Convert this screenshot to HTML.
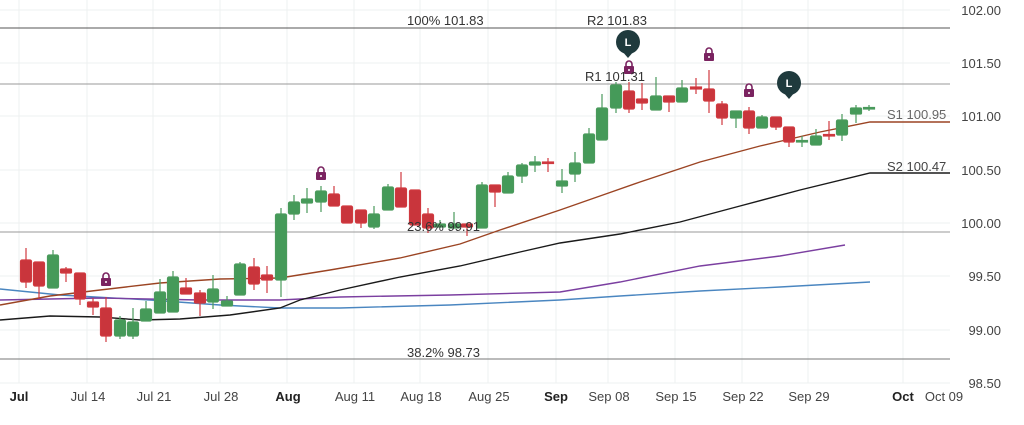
<!DOCTYPE html>
<html><head><meta charset="utf-8"><style>
html,body{margin:0;padding:0;background:#fff;}
svg{display:block;font-family:"Liberation Sans",sans-serif;}
</style></head><body>
<svg width="1024" height="425" viewBox="0 0 1024 425">
<!-- grid -->
<g stroke="#eef1f1" stroke-width="1">
<line x1="0" y1="10" x2="950" y2="10"/><line x1="0" y1="63" x2="950" y2="63"/><line x1="0" y1="116" x2="950" y2="116"/><line x1="0" y1="170" x2="950" y2="170"/><line x1="0" y1="223" x2="950" y2="223"/><line x1="0" y1="276" x2="950" y2="276"/><line x1="0" y1="330" x2="950" y2="330"/><line x1="0" y1="383" x2="950" y2="383"/>
<line x1="19" y1="0" x2="19" y2="383"/><line x1="87" y1="0" x2="87" y2="383"/><line x1="153" y1="0" x2="153" y2="383"/><line x1="220" y1="0" x2="220" y2="383"/><line x1="287" y1="0" x2="287" y2="383"/><line x1="354" y1="0" x2="354" y2="383"/><line x1="420" y1="0" x2="420" y2="383"/><line x1="488" y1="0" x2="488" y2="383"/><line x1="556" y1="0" x2="556" y2="383"/><line x1="608" y1="0" x2="608" y2="383"/><line x1="675" y1="0" x2="675" y2="383"/><line x1="742" y1="0" x2="742" y2="383"/><line x1="808" y1="0" x2="808" y2="383"/><line x1="903" y1="0" x2="903" y2="383"/>
</g>
<!-- horizontal levels -->
<line x1="0" y1="28" x2="950" y2="28" stroke="#555" stroke-width="1"/>
<line x1="0" y1="84" x2="950" y2="84" stroke="#999" stroke-width="1"/>
<line x1="0" y1="232" x2="950" y2="232" stroke="#999" stroke-width="1"/>
<line x1="0" y1="359" x2="950" y2="359" stroke="#777" stroke-width="1"/>
<!-- MAs -->
<polyline fill="none" stroke="#4a86c0" stroke-width="1.4" points="0,289 60,295 150,300 220,305 280,308 340,308 450,305 560,300 620,296 700,291 780,287 870,282"/>
<polyline fill="none" stroke="#7b3fa0" stroke-width="1.4" points="0,300 100,298 200,300 280,300 340,297 450,295 560,292 620,282 700,266 780,256 845,245"/>
<polyline fill="none" stroke="#1a1a1a" stroke-width="1.4" points="0,320 50,316 100,317 140,320 180,319 230,315 280,308 300,300 340,290 400,277 460,266 520,252 560,243 620,234 680,222 740,206 800,190 870,173 950,173"/>
<polyline fill="none" stroke="#9b4423" stroke-width="1.4" points="0,305 50,296 100,290 160,283 220,279 280,278 330,270 400,258 460,244 500,230 560,210 600,196 640,182 700,162 760,146 820,132 870,122 950,122"/>
<!-- candles -->
<g id="c">
</g>
<g stroke-width="1.2">
<!-- format: wick line, body rect -->
<g stroke="#d0393f" fill="#c9353c">
<line x1="26" y1="248" x2="26" y2="288"/><rect x="20.5" y="260" width="11" height="22" rx="1.5"/>
<line x1="39" y1="262" x2="39" y2="299"/><rect x="33.5" y="262" width="11" height="24" rx="1.5"/>
<line x1="66" y1="267" x2="66" y2="282"/><rect x="60.5" y="269" width="11" height="4" rx="1"/>
<line x1="80" y1="273" x2="80" y2="305"/><rect x="74.5" y="273" width="11" height="26" rx="1.5"/>
<line x1="93" y1="298" x2="93" y2="315"/><rect x="87.5" y="302" width="11" height="5" rx="1"/>
<line x1="106" y1="297" x2="106" y2="342"/><rect x="100.5" y="308" width="11" height="28" rx="1.5"/>
<line x1="186" y1="278" x2="186" y2="294"/><rect x="180.5" y="288" width="11" height="6" rx="1"/>
<line x1="200" y1="290" x2="200" y2="316"/><rect x="194.5" y="293" width="11" height="10" rx="1"/>
<line x1="254" y1="258" x2="254" y2="290"/><rect x="248.5" y="267" width="11" height="17" rx="1.5"/>
<line x1="267" y1="266" x2="267" y2="293"/><rect x="261.5" y="275" width="11" height="5" rx="1"/>
<line x1="334" y1="186" x2="334" y2="206"/><rect x="328.5" y="194" width="11" height="12" rx="1.5"/>
<line x1="347" y1="206" x2="347" y2="223"/><rect x="341.5" y="206" width="11" height="17" rx="1.5"/>
<line x1="361" y1="210" x2="361" y2="228"/><rect x="355.5" y="210" width="11" height="13" rx="1.5"/>
<line x1="401" y1="172" x2="401" y2="207"/><rect x="395.5" y="188" width="11" height="19" rx="1.5"/>
<line x1="415" y1="190" x2="415" y2="225"/><rect x="409.5" y="190" width="11" height="35" rx="1.5"/>
<line x1="428" y1="208" x2="428" y2="233"/><rect x="422.5" y="214" width="11" height="14" rx="1.5"/>
<line x1="467" y1="224" x2="467" y2="236"/><rect x="461.5" y="224" width="11" height="3" rx="1"/>
<line x1="495" y1="185" x2="495" y2="207"/><rect x="489.5" y="185" width="11" height="7" rx="1"/>
<line x1="548" y1="158" x2="548" y2="172"/><rect x="542.5" y="162" width="11" height="1.5"/>
<line x1="629" y1="82" x2="629" y2="113"/><rect x="623.5" y="91" width="11" height="18" rx="1.5"/>
<line x1="642" y1="83" x2="642" y2="110"/><rect x="636.5" y="99" width="11" height="4" rx="1"/>
<line x1="669" y1="96" x2="669" y2="112"/><rect x="663.5" y="96" width="11" height="6" rx="1"/>
<line x1="696" y1="78" x2="696" y2="94"/><rect x="690.5" y="87" width="11" height="2"/>
<line x1="709" y1="70" x2="709" y2="113"/><rect x="703.5" y="89" width="11" height="12" rx="1.5"/>
<line x1="722" y1="101" x2="722" y2="125"/><rect x="716.5" y="104" width="11" height="14" rx="1.5"/>
<line x1="749" y1="107" x2="749" y2="134"/><rect x="743.5" y="111" width="11" height="17" rx="1.5"/>
<line x1="776" y1="117" x2="776" y2="130"/><rect x="770.5" y="117" width="11" height="10" rx="1.5"/>
<line x1="789" y1="127" x2="789" y2="147"/><rect x="783.5" y="127" width="11" height="15" rx="1.5"/>
<line x1="829" y1="121" x2="829" y2="140"/><rect x="823.5" y="134.5" width="11" height="1.5"/>
</g>
<g stroke="#4a9a5c" fill="#459a59">
<line x1="53" y1="250" x2="53" y2="288"/><rect x="47.5" y="255" width="11" height="33" rx="1.5"/>
<line x1="120" y1="316" x2="120" y2="339"/><rect x="114.5" y="320" width="11" height="16" rx="1.5"/>
<line x1="133" y1="308" x2="133" y2="339"/><rect x="127.5" y="322" width="11" height="14" rx="1.5"/>
<line x1="146" y1="301" x2="146" y2="321"/><rect x="140.5" y="309" width="11" height="12" rx="1.5"/>
<line x1="160" y1="279" x2="160" y2="313"/><rect x="154.5" y="292" width="11" height="21" rx="1.5"/>
<line x1="173" y1="271" x2="173" y2="312"/><rect x="167.5" y="277" width="11" height="35" rx="1.5"/>
<line x1="213" y1="275" x2="213" y2="309"/><rect x="207.5" y="289" width="11" height="13" rx="1.5"/>
<line x1="227" y1="296" x2="227" y2="306"/><rect x="221.5" y="301" width="11" height="5" rx="1"/>
<line x1="240" y1="262" x2="240" y2="295"/><rect x="234.5" y="264" width="11" height="31" rx="1.5"/>
<line x1="281" y1="208" x2="281" y2="297"/><rect x="275.5" y="214" width="11" height="66" rx="1.5"/>
<line x1="294" y1="195" x2="294" y2="220"/><rect x="288.5" y="202" width="11" height="12" rx="1.5"/>
<line x1="307" y1="188" x2="307" y2="213"/><rect x="301.5" y="199" width="11" height="4" rx="1"/>
<line x1="321" y1="186" x2="321" y2="212"/><rect x="315.5" y="191" width="11" height="11" rx="1.5"/>
<line x1="374" y1="206" x2="374" y2="229"/><rect x="368.5" y="214" width="11" height="13" rx="1.5"/>
<line x1="388" y1="184" x2="388" y2="210"/><rect x="382.5" y="187" width="11" height="23" rx="1.5"/>
<line x1="440" y1="220" x2="440" y2="228"/><rect x="434.5" y="224" width="11" height="3" rx="1"/>
<line x1="454" y1="212" x2="454" y2="228"/><rect x="448.5" y="224" width="11" height="4" rx="1"/>
<line x1="482" y1="182" x2="482" y2="228"/><rect x="476.5" y="185" width="11" height="43" rx="1.5"/>
<line x1="508" y1="172" x2="508" y2="193"/><rect x="502.5" y="176" width="11" height="17" rx="1.5"/>
<line x1="522" y1="163" x2="522" y2="183"/><rect x="516.5" y="165" width="11" height="11" rx="1.5"/>
<line x1="535" y1="156" x2="535" y2="172"/><rect x="529.5" y="162" width="11" height="3" rx="1"/>
<line x1="562" y1="169" x2="562" y2="193"/><rect x="556.5" y="181" width="11" height="5" rx="1"/>
<line x1="575" y1="152" x2="575" y2="182"/><rect x="569.5" y="163" width="11" height="11" rx="1.5"/>
<line x1="589" y1="128" x2="589" y2="163"/><rect x="583.5" y="134" width="11" height="29" rx="1.5"/>
<line x1="602" y1="94" x2="602" y2="140"/><rect x="596.5" y="108" width="11" height="32" rx="1.5"/>
<line x1="616" y1="82" x2="616" y2="113"/><rect x="610.5" y="85" width="11" height="23" rx="1.5"/>
<line x1="656" y1="77" x2="656" y2="110"/><rect x="650.5" y="96" width="11" height="14" rx="1.5"/>
<line x1="682" y1="80" x2="682" y2="102"/><rect x="676.5" y="88" width="11" height="14" rx="1.5"/>
<line x1="736" y1="111" x2="736" y2="128"/><rect x="730.5" y="111" width="11" height="7" rx="1"/>
<line x1="762" y1="115" x2="762" y2="128"/><rect x="756.5" y="117" width="11" height="11" rx="1.5"/>
<line x1="802" y1="136" x2="802" y2="147"/><rect x="796.5" y="140.5" width="11" height="1.5"/>
<line x1="816" y1="129" x2="816" y2="145"/><rect x="810.5" y="136" width="11" height="9" rx="1.5"/>
<line x1="842" y1="114" x2="842" y2="141"/><rect x="836.5" y="120" width="11" height="15" rx="1.5"/>
<line x1="856" y1="105" x2="856" y2="123"/><rect x="850.5" y="108" width="11" height="6" rx="1"/>
<line x1="869" y1="105" x2="869" y2="111"/><rect x="863.5" y="107.5" width="11" height="1.5"/>
</g>
</g>
<!-- locks -->
<g fill="#7a2360">
<g transform="translate(106,281)"><path d="M-3,-3 v-2 a3,3 0 0 1 6,0 v2" fill="none" stroke="#7a2360" stroke-width="1.6"/><rect x="-5" y="-3" width="10" height="8" rx="1"/><circle cx="0" cy="1" r="1" fill="#fff"/></g>
<g transform="translate(321,175)"><path d="M-3,-3 v-2 a3,3 0 0 1 6,0 v2" fill="none" stroke="#7a2360" stroke-width="1.6"/><rect x="-5" y="-3" width="10" height="8" rx="1"/><circle cx="0" cy="1" r="1" fill="#fff"/></g>
<g transform="translate(629,69)"><path d="M-3,-3 v-2 a3,3 0 0 1 6,0 v2" fill="none" stroke="#7a2360" stroke-width="1.6"/><rect x="-5" y="-3" width="10" height="8" rx="1"/><circle cx="0" cy="1" r="1" fill="#fff"/></g>
<g transform="translate(709,56)"><path d="M-3,-3 v-2 a3,3 0 0 1 6,0 v2" fill="none" stroke="#7a2360" stroke-width="1.6"/><rect x="-5" y="-3" width="10" height="8" rx="1"/><circle cx="0" cy="1" r="1" fill="#fff"/></g>
<g transform="translate(749,92)"><path d="M-3,-3 v-2 a3,3 0 0 1 6,0 v2" fill="none" stroke="#7a2360" stroke-width="1.6"/><rect x="-5" y="-3" width="10" height="8" rx="1"/><circle cx="0" cy="1" r="1" fill="#fff"/></g>
</g>
<!-- L markers -->
<g fill="#1f3a3d">
<circle cx="628" cy="42" r="12"/><path d="M622,51 L628,58 L634,51 Z"/>
<circle cx="789" cy="83" r="12"/><path d="M783,92 L789,99 L795,92 Z"/>
</g>
<g fill="#fff" font-size="11" font-weight="bold" text-anchor="middle">
<text x="628" y="46">L</text><text x="789" y="87">L</text>
</g>
<!-- level labels -->
<g font-size="13" fill="#333">
<text x="407" y="25">100% 101.83</text>
<text x="587" y="25">R2 101.83</text>
<text x="585" y="81">R1 101.31</text>
<text x="407" y="231">23.6% 99.91</text>
<text x="407" y="357">38.2% 98.73</text>
<text x="887" y="119" fill="#666">S1 100.95</text>
<text x="887" y="171" fill="#444">S2 100.47</text>
</g>
<!-- y axis -->
<g font-size="13" fill="#444" text-anchor="end">
<text x="1001" y="15">102.00</text>
<text x="1001" y="68">101.50</text>
<text x="1001" y="121">101.00</text>
<text x="1001" y="175">100.50</text>
<text x="1001" y="228">100.00</text>
<text x="1001" y="281">99.50</text>
<text x="1001" y="335">99.00</text>
<text x="1001" y="388">98.50</text>
</g>
<!-- x axis -->
<g font-size="13" fill="#444" text-anchor="middle">
<text x="19" y="401" font-weight="bold" fill="#222">Jul</text>
<text x="88" y="401">Jul 14</text>
<text x="154" y="401">Jul 21</text>
<text x="221" y="401">Jul 28</text>
<text x="288" y="401" font-weight="bold" fill="#222">Aug</text>
<text x="355" y="401">Aug 11</text>
<text x="421" y="401">Aug 18</text>
<text x="489" y="401">Aug 25</text>
<text x="556" y="401" font-weight="bold" fill="#222">Sep</text>
<text x="609" y="401">Sep 08</text>
<text x="676" y="401">Sep 15</text>
<text x="743" y="401">Sep 22</text>
<text x="809" y="401">Sep 29</text>
<text x="903" y="401" font-weight="bold" fill="#222">Oct</text>
<text x="944" y="401">Oct 09</text>
</g>
</svg>
</body></html>
